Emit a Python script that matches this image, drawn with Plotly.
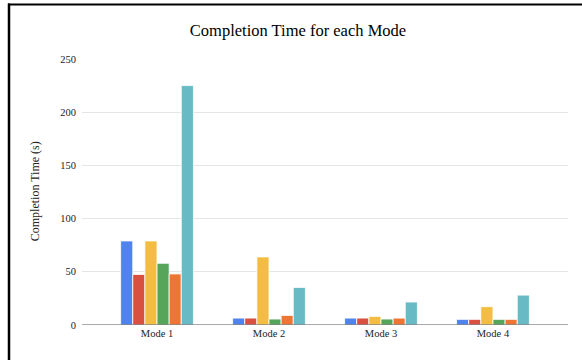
import plotly.graph_objects as go

# Completion time per mode, one series per run
modes = ["Mode 1", "Mode 2", "Mode 3", "Mode 4"]
run_1 = [79, 6.5, 6.5, 5.3]
run_2 = [47.5, 6.5, 6.5, 5.3]
run_3 = [79, 64, 8.1, 17.2]
run_4 = [58, 5.6, 5.6, 5.3]
run_5 = [48, 9, 6.5, 5.3]
run_6 = [225, 35.3, 21.6, 28.1]

series = [run_1, run_2, run_3, run_4, run_5, run_6]
names = ["Run 1", "Run 2", "Run 3", "Run 4", "Run 5", "Run 6"]
colors = ["#5084EC", "#D85040", "#F2BD42", "#57A55B", "#EE7634", "#68BAC5"]

W, H = 582, 360
L, R, T, B = 82, 14, 58.5, 35
pw, ph = W - L - R, H - T - B

FONT = "Liberation Serif, Times New Roman, serif"

fig = go.Figure()
for vals, name, col in zip(series, names, colors):
    fig.add_trace(go.Bar(
        x=modes, y=vals, name=name,
        marker=dict(color=col, line=dict(color="white", width=0.8)),
    ))


def px_x(p):
    return (p - L) / pw


def px_y(p):
    return (H - B - p) / ph


fig.update_layout(
    width=W, height=H,
    margin=dict(l=L, r=R, t=T, b=B),
    paper_bgcolor="white", plot_bgcolor="white",
    barmode="group", bargap=0.35, bargroupgap=0,
    showlegend=False,
    font=dict(family=FONT, color="#222222", size=10.5),
    title=dict(
        text="Completion Time for each Mode",
        font=dict(family=FONT, size=16.5, color="#000000"),
        x=px_x(298), xanchor="center", xref="paper",
        y=1 - 30 / H, yanchor="middle", yref="container",
    ),
    xaxis=dict(
        range=[-0.67, 3.67], showgrid=False, zeroline=False,
        ticks="", showline=False, tickfont=dict(size=10.5, color="#222222"),
    ),
    yaxis=dict(
        range=[0, 250], tickvals=[0, 50, 100, 150, 200, 250],
        showgrid=True, gridcolor="#E5E5E5", gridwidth=1,
        zeroline=False, showline=False, ticks="",
        ticklabelstandoff=5, tickfont=dict(size=10.5, color="#222222"),
    ),
    annotations=[dict(
        text="Completion Time (s)", textangle=-90,
        x=px_x(35), y=px_y(191), xref="paper", yref="paper",
        xanchor="center", yanchor="middle", showarrow=False,
        font=dict(family=FONT, size=12, color="#222222"),
    )],
    shapes=[
        # baseline
        dict(type="line", xref="paper", yref="y", x0=0, x1=1, y0=0, y1=0,
             line=dict(color="#555555", width=1.2)),
        # frame: left and top edges
        dict(type="line", xref="paper", yref="paper",
             x0=px_x(9), x1=px_x(9), y0=px_y(3), y1=px_y(362),
             line=dict(color="#000000", width=2.5)),
        dict(type="line", xref="paper", yref="paper",
             x0=px_x(8), x1=px_x(585), y0=px_y(4), y1=px_y(4),
             line=dict(color="#000000", width=2)),
    ],
)

fig.write_html("out.html")
